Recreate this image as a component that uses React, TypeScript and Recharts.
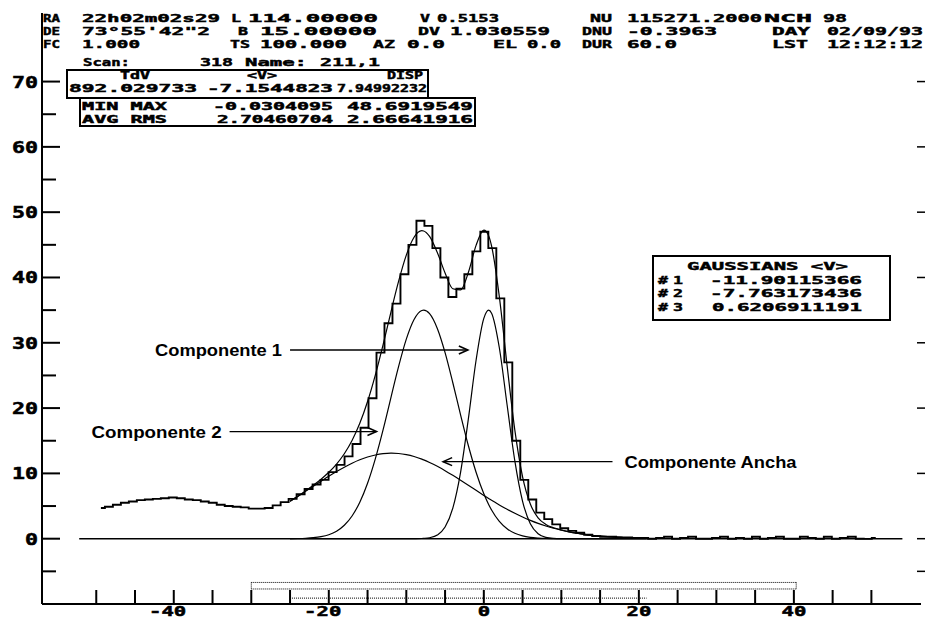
import React from 'react';
import { LineChart, Line, XAxis, YAxis, ReferenceLine } from 'recharts';

const W = 925;
const H = 619;

// channel grid of the spectrum (km/s)
const V0 = -49.4;
const DV = 1.030559;

// antenna temperature per channel
const spectrum = [
  4.7, 4.9, 5.2, 5.5, 5.7, 5.9, 6.0, 6.1, 6.2, 6.3,
  6.2, 6.0, 5.9, 5.7, 5.5, 5.2, 5.0, 4.9, 4.8, 4.6,
  4.6, 4.7, 5.1, 5.6, 6.1, 6.8, 7.6, 8.3, 9.0, 10.2,
  11.3, 12.6, 14.5, 17.0, 21.5, 28.5, 33.0, 36.0, 40.5, 45.0,
  48.69, 47.9, 44.5, 40.0, 37.0, 38.3, 40.5, 44.0, 47.0, 44.5,
  36.8, 27.0, 15.0, 9.0, 6.0, 4.0, 3.0, 2.2, 1.6, 1.2,
  0.9, 0.6, 0.4, 0.3, 0.3, 0.2, 0.2, 0.1, 0.1, 0.0,
  0.1, 0.3, 0.0, 0.1, 0.3, 0.0, 0.0, 0.1, 0.3, 0.0,
  0.1, 0.0, 0.3, 0.0, 0.1, 0.3, 0.0, 0.0, 0.3, 0.1,
  0.0, 0.3, 0.0, 0.1, 0.3, 0.0, -0.03, 0.1,
];

// velocities where the fitted gaussians are sampled
const fitVel = [
  -25, -24, -23, -22, -21, -20, -19, -18, -17, -16, -15, -14, -13, -12, -11.9,
  -11, -10, -9, -8, -7.76, -7, -6, -5, -4, -3, -2, -1, 0, 0.62,
  1, 2, 3, 4, 5, 6, 7, 8, 9, 10, 11, 12, 13, 14, 15, 16, 17, 18, 19, 20, 21,
];

// gaussian #1 (broad, <V> = -11.90)
const gaussAncha = [
  5.74, 6.48, 7.25, 8.03, 8.8, 9.56, 10.28, 10.95, 11.56, 12.08, 12.51, 12.82, 13.02, 13.1, 13.1,
  13.05, 12.87, 12.58, 12.18, 12.07, 11.67, 11.08, 10.42, 9.7, 8.95, 8.18, 7.4, 6.63, 6.16,
  5.89, 5.17, 4.51, 3.89, 3.32, 2.81, 2.35, 1.95, 1.6, 1.31, 1.05, 0.84, 0.66, 0.52, 0.4, 0.31, 0.24, 0.18, 0.13, 0.1, 0.07,
];

// gaussian #2 (<V> = -7.76)
const gaussComp2 = [
  0.01, 0.03, 0.07, 0.15, 0.31, 0.61, 1.15, 2.06, 3.48, 5.59, 8.49, 12.23, 16.66, 21.53, 22.03,
  26.35, 30.56, 33.57, 34.95, 35.0, 34.46, 32.19, 28.49, 23.88, 18.97, 14.27, 10.18, 6.88, 5.25,
  4.4, 2.66, 1.53, 0.83, 0.43, 0.21, 0.1, 0.04, 0.02, 0.01, 0, 0, 0, 0, 0, 0, 0, 0, 0, 0, 0,
];

// gaussian #3 (<V> = 0.62)
const gaussComp1 = [
  0, 0, 0, 0, 0, 0, 0, 0, 0, 0, 0, 0, 0, 0, 0,
  0, 0, 0.01, 0.03, 0.05, 0.15, 0.56, 1.78, 4.69, 10.17, 18.31, 27.33, 33.74, 35.0,
  34.53, 29.24, 20.51, 11.91, 5.73, 2.28, 0.75, 0.2, 0.05, 0.01, 0, 0, 0, 0, 0, 0, 0, 0, 0, 0, 0,
];

// sum of the three gaussians
const gaussTotal = [
  5.75, 6.51, 7.32, 8.18, 9.11, 10.17, 11.43, 13.01, 15.04, 17.67, 21.0, 25.05, 29.68, 34.63, 35.13,
  39.4, 43.43, 46.16, 47.16, 47.12, 46.28, 43.83, 40.69, 38.27, 38.09, 40.76, 44.91, 47.25, 46.41,
  44.82, 37.07, 26.55, 16.63, 9.48, 5.3, 3.2, 2.19, 1.67, 1.33, 1.05, 0.84, 0.66, 0.52, 0.4, 0.31, 0.24, 0.18, 0.13, 0.1, 0.07,
];

const xTicks = [-50, -45, -40, -35, -30, -25, -20, -15, -10, -5, 0, 5, 10, 15, 20, 25, 30, 35, 40, 45, 50];
const xLabels = [-40, -20, 0, 20, 40];
const yTicks = [-5, 0, 5, 10, 15, 20, 25, 30, 35, 40, 45, 50, 55, 60, 65, 70];
const yLabels = [0, 10, 20, 30, 40, 50, 60, 70];
const rightTicks = [-5, 0, 10, 20, 30, 40, 50, 60, 70];
const topTicks = [-31.2, -7.0, 5.3, 10.5, 35.9, 50.5];

const spectrumData = spectrum.map((t, i) => ({ v: V0 + i * DV, t }));
const fitData = fitVel.map((v, i) => ({
  v,
  ancha: gaussAncha[i],
  c2: gaussComp2[i],
  c1: gaussComp1[i],
  total: gaussTotal[i],
}));

const MONO = '"DejaVu Sans Mono", monospace';
const SANS = '"Liberation Sans", Arial, sans-serif';

const XTick = (props: any) => {
  const { x, y, payload } = props;
  const v = payload.value;
  const show = xLabels.includes(v);
  const digits = String(Math.abs(v)).length;
  const label = String(v);
  return (
    <g>
      <line x1={x} x2={x} y1={y} y2={y - 14} stroke="#000" strokeWidth={2} />
      {show && (
        <text
          x={x + (digits * 12.5) / 2}
          y={y + 12}
          textAnchor="end"
          fontFamily={MONO}
          fontWeight="bold"
          fontSize={14}
          stroke="#000"
          strokeWidth={0.5}
          textLength={label.length * 12.4}
          lengthAdjust="spacingAndGlyphs"
        >
          {label}
        </text>
      )}
    </g>
  );
};

const YTick = (props: any) => {
  const { x, y, payload } = props;
  const v = payload.value;
  const major = v % 10 === 0;
  const show = yLabels.includes(v);
  const label = String(v);
  return (
    <g>
      <line x1={x} x2={x + (major ? 18 : 14)} y1={y} y2={y} stroke="#000" strokeWidth={2} />
      {show && (
        <text
          x={x - 4}
          y={y + 6}
          textAnchor="end"
          fontFamily={MONO}
          fontWeight="bold"
          fontSize={16}
          stroke="#000"
          strokeWidth={0.5}
          textLength={label.length * 13}
          lengthAdjust="spacingAndGlyphs"
        >
          {label}
        </text>
      )}
    </g>
  );
};

const RightTick = (props: any) => {
  const { x, y } = props;
  return <line x1={x - 4} x2={x + 4} y1={y} y2={y} stroke="#000" strokeWidth={1.5} />;
};

const TopTick = (props: any) => {
  const { x, y } = props;
  return <line x1={x} x2={x} y1={y} y2={y + 10} stroke="#000" strokeWidth={1.5} />;
};

// arrow with its caption; the head sits on the second segment point
const arrow = (caption: string, captionWidth: number) => (p: any) => {
  const { x1, y1, x2, y2 } = p;
  const dir = x2 > x1 ? 1 : -1;
  return (
    <g>
      <line x1={x1} y1={y1} x2={x2} y2={y2} stroke="#000" strokeWidth={1.4} />
      <polyline
        points={`${x2 - dir * 9},${y2 - 4} ${x2},${y2} ${x2 - dir * 9},${y2 + 4}`}
        fill="none"
        stroke="#000"
        strokeWidth={1.6}
      />
      <text
        x={dir > 0 ? x1 - 8 : x1 + 12}
        y={y1 + 6}
        textAnchor={dir > 0 ? 'end' : 'start'}
        fontFamily={SANS}
        fontWeight="bold"
        fontSize={16}
        textLength={captionWidth}
        lengthAdjust="spacingAndGlyphs"
      >
        {caption}
      </text>
    </g>
  );
};

// header block: text, x, baseline, width
const headerRows: [string, number, number, number][] = [
  ['RA', 43, 22, 17],
  ['22h02m02s29', 82, 22, 138],
  ['L', 231, 22, 10],
  ['114.00000', 248, 22, 130],
  ['V', 420, 22, 10],
  ['0.5153', 437, 22, 62],
  ['NU', 590, 22, 22],
  ['115271.2000', 627, 22, 135],
  ['NCH', 764, 22, 48],
  ['98', 823, 22, 24],
  ['DE', 43, 35, 17],
  ['73°55\'42"2', 82, 35, 128],
  ['B', 238, 35, 10],
  ['15.00000', 260, 35, 117],
  ['DV', 418, 35, 22],
  ['1.030559', 450, 35, 100],
  ['DNU', 582, 35, 30],
  ['-0.3963', 627, 35, 90],
  ['DAY', 772, 35, 38],
  ['02/09/93', 827, 35, 96],
  ['FC', 43, 48, 17],
  ['1.000', 82, 48, 58],
  ['TS', 230, 48, 20],
  ['100.000', 260, 48, 87],
  ['AZ', 373, 48, 22],
  ['0.0', 407, 48, 38],
  ['EL', 493, 48, 24],
  ['0.0', 527, 48, 34],
  ['DUR', 582, 48, 30],
  ['60.0', 627, 48, 50],
  ['LST', 772, 48, 36],
  ['12:12:12', 827, 48, 96],
  ['Scan:', 83, 66, 47],
  ['318', 200, 66, 33],
  ['Name:', 245, 66, 62],
  ['211,1', 320, 66, 60],
];

const statRows: [string, number, number, number][] = [
  ['TdV', 120, 79, 30],
  ['<V>', 247, 79, 30],
  ['DISP', 387, 79, 36],
  ['892.029733', 69, 92, 128],
  ['-7.1544823', 207, 92, 126],
  ['7.94992232', 337, 92, 90],
  ['MIN MAX', 82, 110, 85],
  ['-0.0304095', 213, 110, 120],
  ['48.6919549', 347, 110, 126],
  ['AVG RMS', 82, 123, 85],
  ['2.70460704', 217, 123, 116],
  ['2.66641916', 347, 123, 126],
];

const gaussRows: [string, number, number, number][] = [
  ['GAUSSIANS <V>', 687, 270, 161],
  ['#', 658, 283.5, 10],
  ['1', 673, 283.5, 10],
  ['-11.90115366', 710, 283.5, 152],
  ['#', 658, 297, 10],
  ['2', 673, 297, 10],
  ['-7.763173436', 710, 297, 152],
  ['#', 658, 310.5, 10],
  ['3', 673, 310.5, 10],
  ['0.6206911191', 712, 310.5, 150],
];

const MonoText = ({ s, x, y, w, size }: { s: string; x: number; y: number; w: number; size: number }) => (
  <text
    x={x}
    y={y}
    fontFamily={MONO}
    fontWeight="bold"
    fontSize={size}
    stroke="#000"
    strokeWidth={0.45}
    textLength={w}
    lengthAdjust="spacingAndGlyphs"
  >
    {s}
  </text>
);

export default function App() {
  return (
    <div style={{ position: 'absolute', left: 0, top: 0, width: W, height: H, background: '#fff' }}>
      <LineChart width={W} height={H} margin={{ top: 13, right: 0, bottom: 0, left: 0 }}>
        <XAxis
          type="number"
          dataKey="v"
          domain={[-57, 56.4]}
          allowDataOverflow
          ticks={xTicks}
          height={15}
          tickSize={0}
          tickMargin={0}
          tick={<XTick />}
          tickLine={false}
          axisLine={{ stroke: '#000', strokeWidth: 2 }}
        />
        <XAxis
          xAxisId="top"
          orientation="top"
          type="number"
          dataKey="v"
          domain={[-57, 56.4]}
          allowDataOverflow
          ticks={topTicks}
          height={0}
          tickSize={0}
          tickMargin={0}
          tick={<TopTick />}
          tickLine={false}
          axisLine={{ stroke: '#000', strokeWidth: 1.5 }}
        />
        <YAxis
          type="number"
          domain={[-10, 80.5]}
          allowDataOverflow
          ticks={yTicks}
          width={42}
          tickSize={0}
          tickMargin={0}
          tick={<YTick />}
          tickLine={false}
          axisLine={{ stroke: '#000', strokeWidth: 2 }}
        />
        <YAxis
          yAxisId="right"
          orientation="right"
          type="number"
          domain={[-10, 80.5]}
          allowDataOverflow
          ticks={rightTicks}
          width={4}
          tickSize={0}
          tickMargin={0}
          tick={<RightTick />}
          tickLine={false}
          axisLine={false}
        />

        {/* zero level */}
        <ReferenceLine segment={[{ x: -52.2, y: 0 }, { x: 54, y: 0 }]} stroke="#000" strokeWidth={1.5} />

        {/* baseline and fit windows */}
        <ReferenceLine segment={[{ x: -30, y: -6.7 }, { x: 40.3, y: -6.7 }]} stroke="#000" strokeDasharray="1 1" />
        <ReferenceLine segment={[{ x: -30, y: -7.7 }, { x: 40.3, y: -7.7 }]} stroke="#000" strokeDasharray="1 1" />
        <ReferenceLine segment={[{ x: -30, y: -6.7 }, { x: -30, y: -7.7 }]} stroke="#000" strokeDasharray="1 1" />
        <ReferenceLine segment={[{ x: 40.3, y: -6.7 }, { x: 40.3, y: -7.7 }]} stroke="#000" strokeDasharray="1 1" />
        <ReferenceLine segment={[{ x: -25, y: -9.1 }, { x: 21, y: -9.1 }]} stroke="#000" strokeDasharray="1 1" />

        <Line data={fitData} dataKey="ancha" type="monotone" stroke="#000" strokeWidth={1.2} dot={false} isAnimationActive={false} />
        <Line data={fitData} dataKey="c2" type="monotone" stroke="#000" strokeWidth={1.2} dot={false} isAnimationActive={false} />
        <Line data={fitData} dataKey="c1" type="monotone" stroke="#000" strokeWidth={1.2} dot={false} isAnimationActive={false} />
        <Line data={fitData} dataKey="total" type="monotone" stroke="#000" strokeWidth={1.2} dot={false} isAnimationActive={false} />
        <Line data={spectrumData} dataKey="t" type="step" stroke="#000" strokeWidth={1.9} dot={false} isAnimationActive={false} />

        <ReferenceLine
          segment={[{ x: -25.0, y: 28.9 }, { x: -2.06, y: 28.9 }]}
          shape={arrow('Componente 1', 127)}
        />
        <ReferenceLine
          segment={[{ x: -32.8, y: 16.4 }, { x: -13.85, y: 16.4 }]}
          shape={arrow('Componente 2', 130)}
        />
        <ReferenceLine
          segment={[{ x: 16.6, y: 11.8 }, { x: -5.25, y: 11.8 }]}
          shape={arrow('Componente Ancha', 172)}
        />
      </LineChart>

      <svg
        width={W}
        height={H}
        style={{ position: 'absolute', left: 0, top: 0, pointerEvents: 'none' }}
      >
        {headerRows.map(([s, x, y, w], i) => (
          <MonoText key={'h' + i} s={s} x={x} y={y} w={w} size={11} />
        ))}
        <rect x={67} y={70} width={361} height={28} fill="none" stroke="#000" strokeWidth={2} />
        <rect x={80} y={98} width={395} height={28} fill="none" stroke="#000" strokeWidth={2} />
        {statRows.map(([s, x, y, w], i) => (
          <MonoText key={'s' + i} s={s} x={x} y={y} w={w} size={10} />
        ))}
        <rect x={653} y={256} width={237} height={64} fill="#fff" stroke="#000" strokeWidth={2} />
        {gaussRows.map(([s, x, y, w], i) => (
          <MonoText key={'g' + i} s={s} x={x} y={y} w={w} size={11} />
        ))}
      </svg>
    </div>
  );
}
